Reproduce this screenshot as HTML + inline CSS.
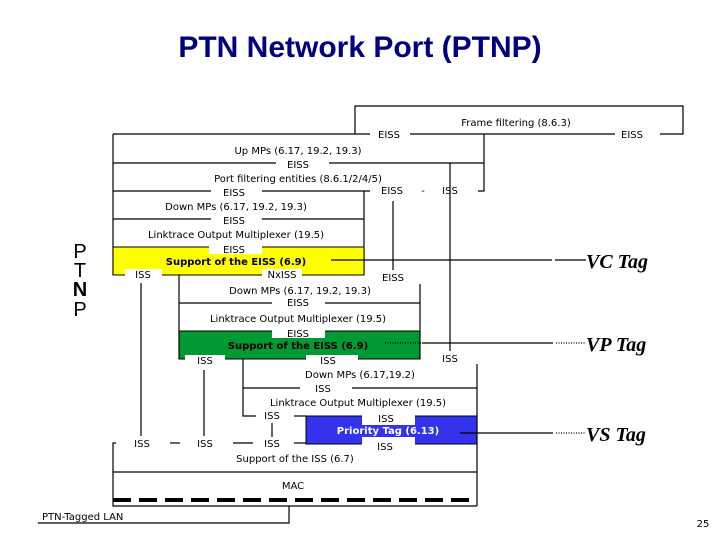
<!DOCTYPE html>
<html><head><meta charset="utf-8"><style>
html,body{margin:0;padding:0;background:#fff;}
svg{display:block;}
text{font-family:"DejaVu Sans","Liberation Sans",sans-serif;font-size:10px;fill:#000;}
.c{text-anchor:middle;}
.w{fill:#fff;stroke:none;}
text.big{font-family:"Liberation Sans",sans-serif;font-size:20px;}
text.tag{font-family:"Liberation Serif",serif;font-size:20px;font-style:italic;font-weight:bold;}
text.title{font-family:"Liberation Sans",sans-serif;font-size:30px;font-weight:bold;fill:#000080;}
</style></head><body>
<svg width="720" height="540" viewBox="0 0 720 540" xmlns="http://www.w3.org/2000/svg">
<text x="360" y="57" class="c title">PTN Network Port (PTNP)</text>
<text x="80" y="258" class="c big">P</text><text x="80" y="277" class="c big">T</text><text x="80" y="296" class="c big" style="font-weight:bold">N</text><text x="80" y="316" class="c big">P</text>
<g stroke="#000" stroke-width="1.2" fill="none">
<polyline points="355,134 355,106 683,106 683,134 660,134"/>
<line x1="410" y1="134" x2="615" y2="134"/>
<line x1="113" y1="134" x2="370" y2="134"/>
<line x1="113" y1="134" x2="113" y2="275"/>
<line x1="113" y1="163" x2="276" y2="163"/><line x1="329" y1="163" x2="484" y2="163"/>
<polyline points="484,134 484,191 478,191"/>
<line x1="113" y1="191" x2="211" y2="191"/><line x1="262" y1="191" x2="370" y2="191"/>
<line x1="364" y1="191" x2="364" y2="275"/>
<line x1="113" y1="219" x2="211" y2="219"/><line x1="262" y1="219" x2="364" y2="219"/>
<line x1="393" y1="201" x2="393" y2="270"/>
<line x1="450" y1="163" x2="450" y2="351"/>
</g>
<rect x="113" y="247" width="251" height="28" fill="#ffff00" stroke="#000" stroke-width="1"/>
<rect x="209" y="243" width="53" height="11" class="w"/>
<rect x="125" y="269" width="37" height="10" class="w"/>
<rect x="262" y="269" width="40" height="10" class="w"/>
<rect x="179" y="331" width="241" height="28" fill="#009933" stroke="#000" stroke-width="1"/>
<rect x="272" y="327" width="53" height="11" class="w"/>
<rect x="185" y="355" width="40" height="10" class="w"/>
<rect x="306" y="355" width="52" height="10" class="w"/>
<rect x="306" y="416" width="171" height="28" fill="#3333ee" stroke="#000" stroke-width="1"/>
<rect x="362" y="413" width="53" height="12" class="w"/>
<rect x="362" y="437" width="53" height="12" class="w"/>
<g stroke="#000" stroke-width="1.2" fill="none">
<line x1="331" y1="260" x2="552" y2="260"/><line x1="555" y1="260" x2="586" y2="260"/>
<line x1="179" y1="275" x2="179" y2="359"/>
<line x1="420" y1="284" x2="420" y2="359"/>
<line x1="179" y1="303" x2="272" y2="303"/><line x1="325" y1="303" x2="420" y2="303"/>
<line x1="385" y1="343" x2="422" y2="343" stroke-dasharray="1,1.5"/>
<line x1="422" y1="343" x2="553" y2="343"/><line x1="556" y1="343" x2="585" y2="343" stroke-dasharray="1,1.5"/>
<line x1="141" y1="283" x2="141" y2="436"/>
<line x1="204" y1="370" x2="204" y2="436"/>
<polyline points="243,359 243,416 256,416"/>
<line x1="477" y1="364" x2="477" y2="506"/>
<line x1="243" y1="388" x2="300" y2="388"/><line x1="352" y1="388" x2="477" y2="388"/>
<line x1="294" y1="416" x2="306" y2="416"/>
<line x1="272" y1="423" x2="272" y2="437"/>
<line x1="460" y1="433" x2="553" y2="433"/><line x1="556" y1="433" x2="585" y2="433" stroke-dasharray="1,1.5"/>
<line x1="170" y1="443" x2="180" y2="443"/><line x1="233" y1="443" x2="253" y2="443"/>
<line x1="294" y1="443" x2="306" y2="443"/>
<polyline points="116,443 113,443 113,506 477,506"/>
<line x1="113" y1="472" x2="477" y2="472"/>
<line x1="113" y1="500" x2="477" y2="500" stroke-width="4" stroke-dasharray="18,8"/>
<polyline points="38,523 289,523 289,506"/>
</g>
<text x="516" y="126" class="c">Frame filtering (8.6.3)</text>
<text x="389" y="138" class="c">EISS</text><text x="632" y="138" class="c">EISS</text>
<text x="298" y="154" class="c">Up MPs (6.17, 19.2, 19.3)</text>
<text x="298" y="168" class="c">EISS</text>
<text x="298" y="182" class="c">Port filtering entities (8.6.1/2/4/5)</text>
<text x="234" y="196" class="c">EISS</text>
<text x="392" y="194" class="c">EISS</text><text x="423" y="194" class="c">-</text><text x="450" y="194" class="c">ISS</text>
<text x="236" y="210" class="c">Down MPs (6.17, 19.2, 19.3)</text>
<text x="234" y="224" class="c">EISS</text>
<text x="236" y="238" class="c">Linktrace Output Multiplexer (19.5)</text>
<text x="234" y="253" class="c">EISS</text>
<text x="236" y="265" class="c" style="font-weight:bold">Support of the EISS (6.9)</text>
<text x="143" y="278" class="c">ISS</text><text x="282" y="278" class="c">NxISS</text>
<text x="393" y="281" class="c">EISS</text>
<text x="300" y="294" class="c">Down MPs (6.17, 19.2, 19.3)</text>
<text x="298" y="306" class="c">EISS</text>
<text x="298" y="322" class="c">Linktrace Output Multiplexer (19.5)</text>
<text x="298" y="337" class="c">EISS</text>
<text x="298" y="349" class="c" style="font-weight:bold">Support of the EISS (6.9)</text>
<text x="205" y="364" class="c">ISS</text><text x="328" y="364" class="c">ISS</text>
<text x="450" y="362" class="c">ISS</text>
<text x="360" y="378" class="c">Down MPs (6.17,19.2)</text>
<text x="323" y="392" class="c">ISS</text>
<text x="358" y="406" class="c">Linktrace Output Multiplexer (19.5)</text>
<text x="272" y="419" class="c">ISS</text>
<text x="386" y="422" class="c">ISS</text>
<text x="388" y="434" class="c" style="font-weight:bold;fill:#fff">Priority Tag (6.13)</text>
<text x="385" y="450" class="c">ISS</text>
<text x="142" y="447" class="c">ISS</text><text x="205" y="447" class="c">ISS</text><text x="272" y="447" class="c">ISS</text>
<text x="295" y="462" class="c">Support of the ISS (6.7)</text>
<text x="293" y="489" class="c">MAC</text>
<text x="42" y="520">PTN-Tagged LAN</text>
<text x="703" y="527" class="c">25</text>
<text x="586" y="268" class="tag">VC Tag</text><text x="586" y="351" class="tag">VP Tag</text><text x="586" y="441" class="tag">VS Tag</text>
</svg>
</body></html>
